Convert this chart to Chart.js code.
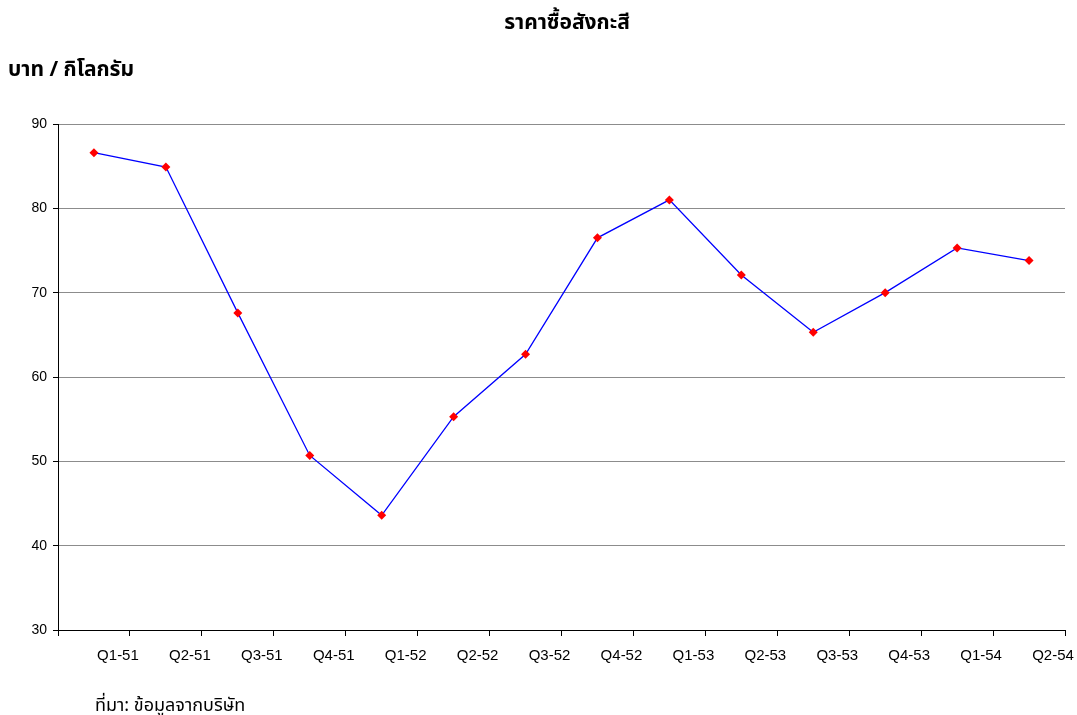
<!DOCTYPE html>
<html>
<head>
<meta charset="utf-8">
<script src="https://cdn.jsdelivr.net/npm/chart.js@4"></script>
<style>
  html, body { margin:0; padding:0; background:#fff; overflow:hidden; }
  #wrap { position:relative; width:1077px; height:715px; overflow:hidden; }
  canvas { position:absolute; left:0; top:0; }
  .txt { position:absolute; font-family: Tahoma, "Noto Sans Thai", "Leelawadee UI", "Liberation Sans", sans-serif; color:#000; white-space:nowrap; line-height:1; }
  #title { top:12px; left:567px; transform:translateX(-50%); font-size:21px; font-weight:bold; }
  #ytitle { top:59px; left:8px; font-size:21px; font-weight:bold; }
  #source { top:697px; left:95px; font-size:18px; }
</style>
</head>
<body>
<div id="wrap">
  <canvas id="c" width="1077" height="715"></canvas>
  <div class="txt" id="title">ราคาซื้อสังกะสี</div>
  <div class="txt" id="ytitle">บาท / กิโลกรัม</div>
  <div class="txt" id="source">ที่มา: ข้อมูลจากบริษัท</div>
</div>
<script>
const categories = ["Q1-51","Q2-51","Q3-51","Q4-51","Q1-52","Q2-52","Q3-52","Q4-52","Q1-53","Q2-53","Q3-53","Q4-53","Q1-54","Q2-54"];
const prices = [86.6, 84.9, 67.6, 50.7, 43.6, 55.3, 62.7, 76.5, 81.0, 72.1, 65.3, 70.0, 75.3, 73.8];
const yMin = 30, yMax = 90, yStep = 10;

new Chart(document.getElementById('c'), {
  type: 'line',
  data: {
    labels: categories,
    datasets: [{
      data: prices,
      borderColor: '#0000ff',
      borderWidth: 1.3,
      pointStyle: 'rectRot',
      pointRadius: 4.5,
      pointBackgroundColor: '#ff0000',
      pointBorderColor: '#ff0000',
      pointBorderWidth: 0,
      tension: 0,
      fill: false
    }]
  },
  options: {
    responsive: false,
    animation: false,
    devicePixelRatio: 1,
    layout: { padding: { left: 0, right: 12, top: 124, bottom: 0 } },
    plugins: { legend: { display: false }, title: { display: false }, tooltip: { enabled: false } },
    scales: {
      x: {
        offset: true,
        grid: { display: true, offset: true, drawOnChartArea: false, drawTicks: true, tickLength: 6, tickColor: '#000', color: '#000' },
        border: { display: true, color: '#000', width: 1 },
        ticks: { color: '#000', font: { family: 'Liberation Sans, Arial, sans-serif', size: 15 }, padding: 11, labelOffset: 24, maxRotation: 0, autoSkip: false },
        afterFit: (s) => { s.height = 85; }
      },
      y: {
        min: yMin, max: yMax,
        grid: { color: '#8c8c8c', lineWidth: 1, tickLength: 5, tickColor: '#000' },
        border: { display: true, color: '#000', width: 1 },
        ticks: { stepSize: yStep, color: '#000', font: { family: 'Liberation Sans, Arial, sans-serif', size: 14 }, padding: 6 },
        afterFit: (s) => { s.width = 58; }
      }
    }
  }
});
</script>
</body>
</html>
